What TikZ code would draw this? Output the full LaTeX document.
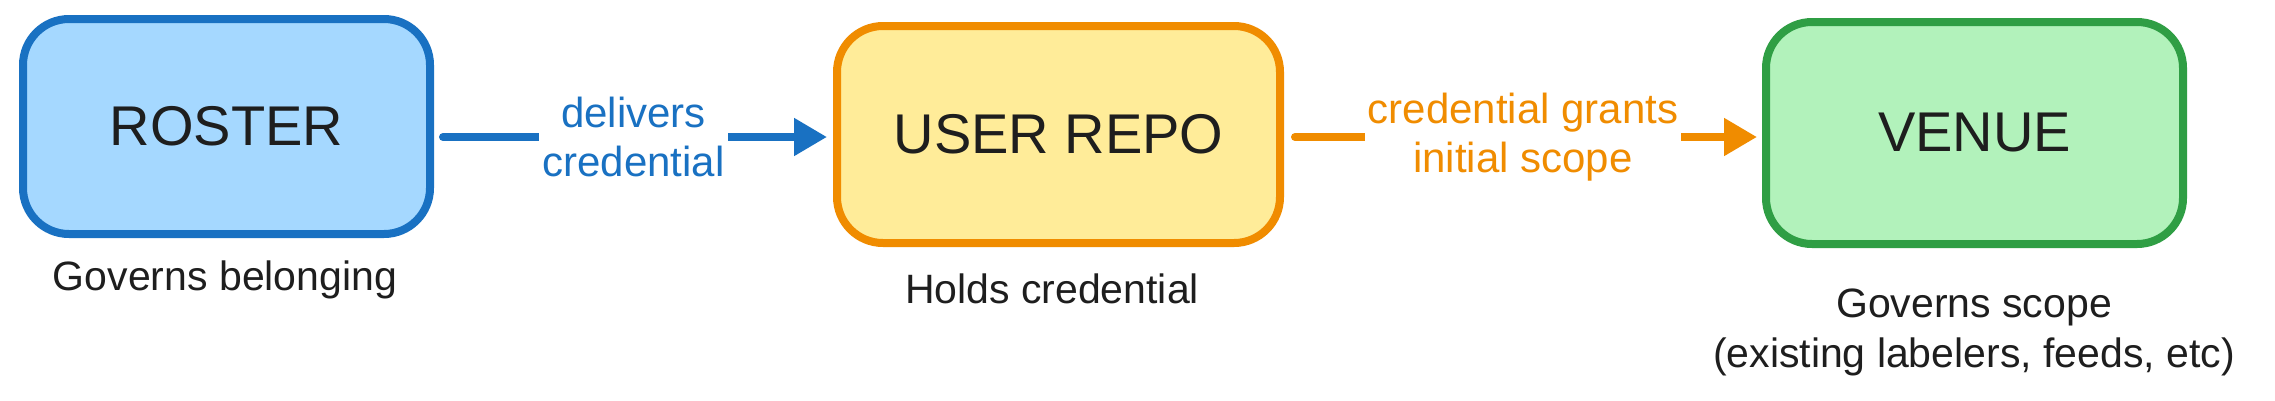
\documentclass[tikz,border=0pt]{standalone}
\usepackage{fontspec}
\setmainfont{Liberation Sans}
\usetikzlibrary{arrows.meta}
\definecolor{blueS}{HTML}{1971C2}
\definecolor{blueF}{HTML}{A5D8FF}
\definecolor{orangeS}{HTML}{F08C00}
\definecolor{orangeF}{HTML}{FFEC99}
\definecolor{greenS}{HTML}{2F9E44}
\definecolor{greenF}{HTML}{B2F2BB}
\definecolor{ink}{HTML}{1E1E1E}
\begin{document}
\begin{tikzpicture}[x=1pt,y=-1pt,
  box/.style={draw, line width=8pt, rounded corners=46pt, inner sep=0pt, text=ink,
    font=\fontsize{56}{60}\selectfont},
  caption/.style={text=ink, font=\fontsize{41}{50}\selectfont, align=center, inner sep=0pt},
  conn/.style={line width=8pt, line cap=round, -{Triangle[length=33pt,width=36pt]}},
  lbl/.style={fill=white, inner xsep=3pt, inner ysep=0pt, align=center,
    font=\fontsize{42}{49}\selectfont}]
\useasboundingbox[fill=white] (0,0) rectangle (2275,400);

\node[box, draw=blueS, fill=blueF, minimum width=407pt, minimum height=215pt] (roster) at (226.5,126.5) {ROSTER};
\node[box, draw=orangeS, fill=orangeF, minimum width=443pt, minimum height=217pt] (user) at (1058.5,134.5) {USER REPO};
\node[box, draw=greenS, fill=greenF, minimum width=417pt, minimum height=222pt] (venue) at (1974.5,133) {VENUE};

\node[caption, anchor=base] (cap1) at (225,290) {Governs belonging};
\node[caption, anchor=base] (cap2) at (1052,303) {Holds credential};
\node[caption] (cap3) at (1974,332) {Governs scope\\(existing labelers, feeds, etc)};

\coordinate (ay) at (0,137);
\draw[conn, draw=blueS, fill=blueS, shorten <=9pt, shorten >=6pt]
  (roster.east |- ay) -- node[lbl, text=blueS] (l1) {delivers\\credential} (user.west |- ay);
\draw[conn, draw=orangeS, fill=orangeS, shorten <=11pt, shorten >=5pt]
  (user.east |- ay) -- node[lbl, text=orangeS] (l2) {credential grants\\initial scope} (venue.west |- ay);
\end{tikzpicture}
\end{document}
